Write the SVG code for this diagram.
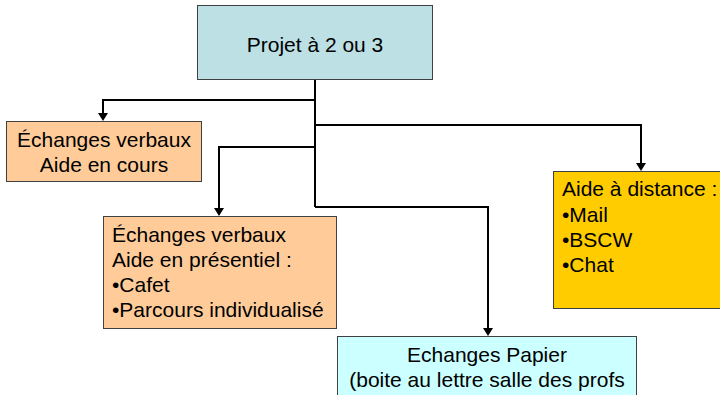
<svg xmlns="http://www.w3.org/2000/svg" width="720" height="395" viewBox="0 0 720 395">
<defs>
<style>
.box{stroke:#404040;stroke-width:1}
.t{font-family:"Liberation Sans",Arial,sans-serif;font-size:21px;fill:#000}
.c{text-anchor:middle}
.conn{fill:none;stroke:#000;stroke-width:2}
</style>
</defs>
<rect width="720" height="395" fill="#fff"/>
<g id="connectors">
<path class="conn" d="M315,79 V207"/>
<path class="conn" d="M315,100 H103 V114"/>
<path class="conn" d="M315,125 H641 V164"/>
<path class="conn" d="M315,147 H219 V209"/>
<path class="conn" d="M315,207 H488 V329"/>
<path d="M98,113 L108,113 L103,121 Z"/>
<path d="M636,163 L646,163 L641,171 Z"/>
<path d="M214,208 L224,208 L219,216 Z"/>
<path d="M483,328 L493,328 L488,336 Z"/>
</g>
<g id="projet">
<rect class="box" x="197.5" y="5.5" width="235" height="74" fill="#BCE0E4"/>
<text class="t c" x="315" y="52">Projet à 2 ou 3</text>
</g>
<g id="aide-cours">
<rect class="box" x="6.5" y="121.5" width="195" height="60" fill="#FFCC99"/>
<text class="t c" x="104" y="147">Échanges verbaux</text>
<text class="t c" x="104" y="172">Aide en cours</text>
</g>
<g id="aide-presentiel">
<rect class="box" x="103.5" y="216.5" width="233" height="112" fill="#FFCC99"/>
<text class="t" x="112" y="242">Échanges verbaux</text>
<text class="t" x="112" y="267">Aide en présentiel :</text>
<text class="t" x="112" y="292">•Cafet</text>
<text class="t" x="112" y="317">•Parcours individualisé</text>
</g>
<g id="aide-distance">
<rect class="box" x="553.5" y="171.5" width="170" height="137" fill="#FFCC00"/>
<text class="t" x="562" y="196">Aide à distance :</text>
<text class="t" x="562" y="222">•Mail</text>
<text class="t" x="562" y="247">•BSCW</text>
<text class="t" x="562" y="272">•Chat</text>
</g>
<g id="papier">
<rect class="box" x="337.5" y="336.5" width="299" height="70" fill="#CCFFFF"/>
<text class="t c" x="487" y="362">Echanges Papier</text>
<text class="t c" x="487" y="387">(boite au lettre salle des profs</text>
</g>
</svg>
